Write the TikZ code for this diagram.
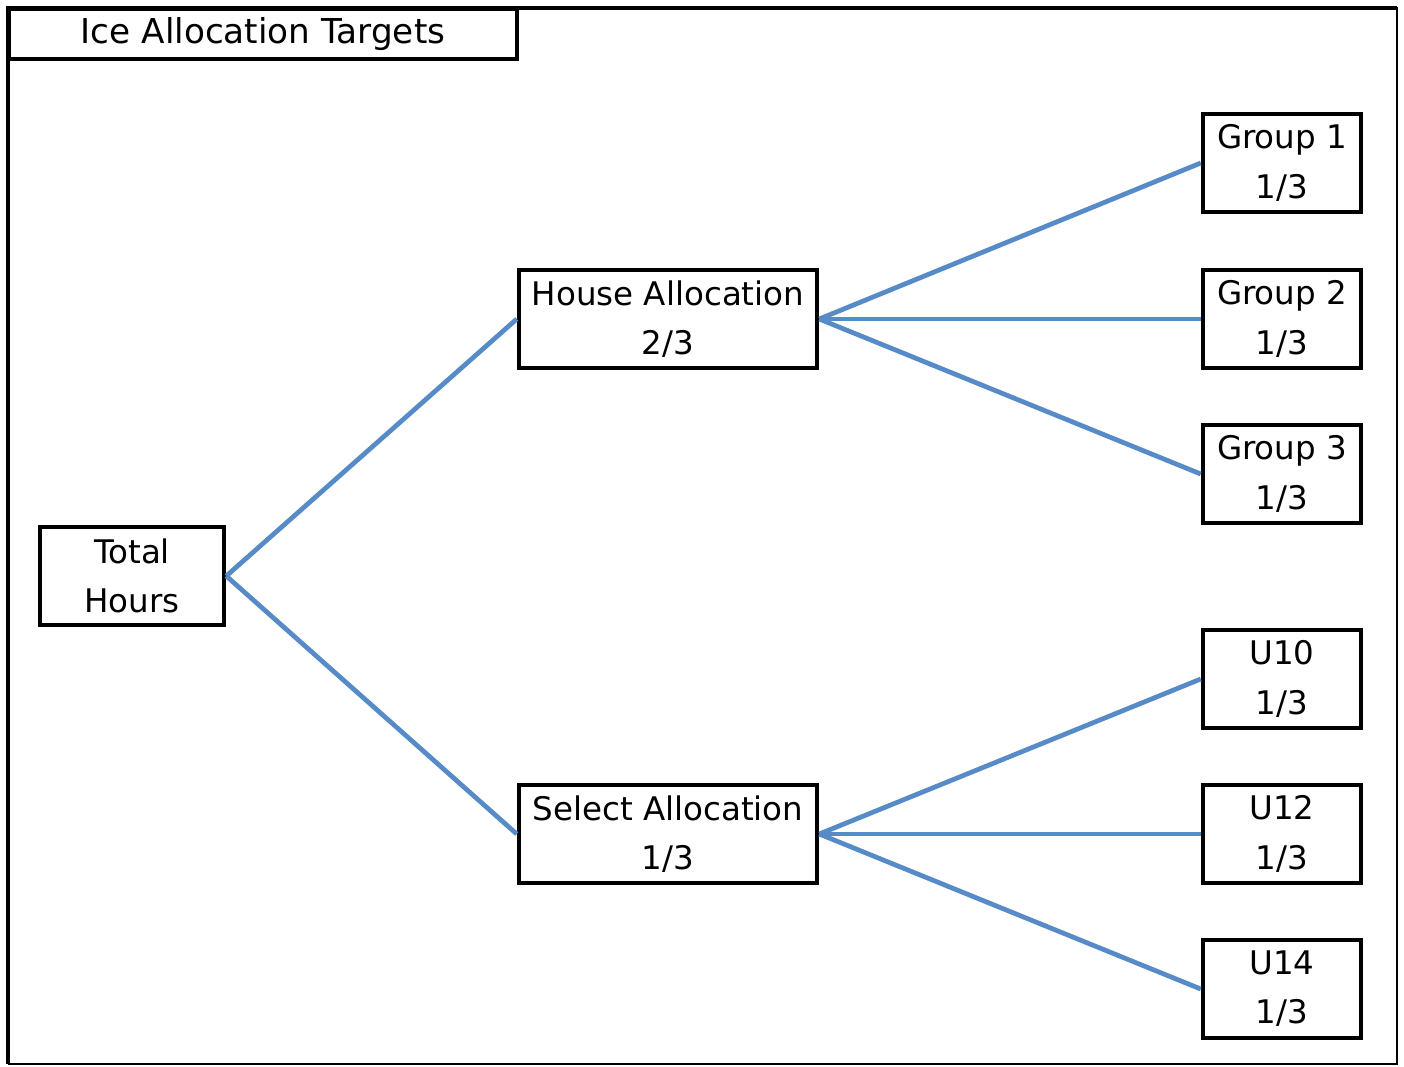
\documentclass[tikz,border=0pt]{standalone}
\usepackage{fontspec}
\setmainfont{DejaVu Sans}
\usepackage{tikz}
\usetikzlibrary{positioning}
\definecolor{linkblue}{RGB}{86,139,199}

\begin{document}
\begin{tikzpicture}[
    x=0.02cm, y=-0.02cm,
    box/.style={draw, line width=2.6pt, align=center, inner sep=0pt,
                minimum height=1.96cm, font=\fontsize{18.5}{28}\selectfont},
    leaf/.style={box, minimum width=3.16cm},
    mid/.style={box, minimum width=5.96cm},
    link/.style={draw=linkblue, line width=2.7pt},
]
\useasboundingbox (0,0) rectangle (1404,1066);

% --- Frame and title ---
\draw[line width=1.2pt] (8,8) -- (1397,8) -- (1397,1064) -- (8,1064);
\draw[line width=2.2pt] (8,1064) -- (8,8) -- (1397,8);
\node[draw, line width=2.6pt, minimum width=10.16cm, minimum height=1.0cm,
      inner sep=0pt, font=\fontsize{19.5}{22}\selectfont] (title) at (263,34)
    {Ice Allocation Targets};

% --- Root ---
\node[box, minimum width=3.68cm] (total) at (132,576) {Total\\Hours};

% --- Allocations ---
\node[mid] (house) at (668,319) {House Allocation\\2/3};
\node[mid] (select) at (668,834) {Select Allocation\\1/3};

% --- Groups ---
\node[leaf] (g1) at (1282,163) {Group 1\\1/3};
\node[leaf] (g2) at (1282,319) {Group 2\\1/3};
\node[leaf] (g3) at (1282,474) {Group 3\\1/3};

% --- Select teams ---
\node[leaf] (u10) at (1282,679) {U10\\1/3};
\node[leaf] (u12) at (1282,834) {U12\\1/3};
\node[leaf] (u14) at (1282,989) {U14\\1/3};

% --- Links ---
\draw[link] (total.east) -- (house.west);
\draw[link] (total.east) -- (select.west);
\foreach \g in {g1, g2, g3}
    \draw[link] (house.east) -- (\g.west);
\foreach \u in {u10, u12, u14}
    \draw[link] (select.east) -- (\u.west);
\end{tikzpicture}
\end{document}
